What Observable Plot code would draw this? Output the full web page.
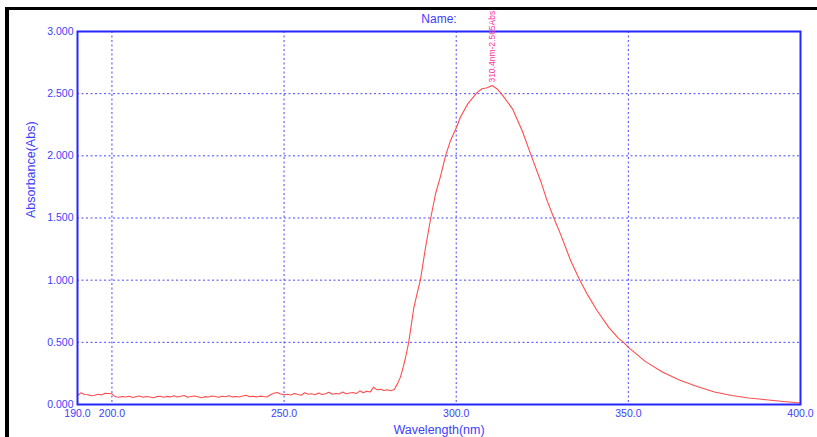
<!DOCTYPE html>
<html>
<head>
<meta charset="utf-8">
<script src="https://cdn.jsdelivr.net/npm/d3@7"></script>
<script src="https://cdn.jsdelivr.net/npm/@observablehq/plot@0.6"></script>
<style>
  html, body { margin: 0; padding: 0; background: #fff; width: 817px; height: 437px; overflow: hidden; }
  #wrap { position: absolute; left: 0; top: 0; }
  #border { position: absolute; left: 5px; top: 7px; width: 830px; height: 450px; border-top: 3px solid #000; border-left: 4px solid #000; box-sizing: border-box; pointer-events: none; }
</style>
</head>
<body>
<div id="wrap"></div>
<div id="border"></div>
<script>
// Baseline region, 1 nm steps (190 - 281 nm)
const baseWavelength = d3.range(190, 282);
const baseAbsorbance = [
  0.072, 0.094, 0.080, 0.078, 0.070, 0.074, 0.082, 0.076, 0.090, 0.088,
  0.086, 0.062, 0.058, 0.064, 0.060, 0.066, 0.056, 0.062, 0.068, 0.058,
  0.064, 0.060, 0.054, 0.063, 0.067, 0.059, 0.065, 0.061, 0.070, 0.060,
  0.066, 0.072, 0.058, 0.064, 0.069, 0.062, 0.055, 0.063, 0.060, 0.068,
  0.064, 0.058, 0.066, 0.062, 0.070, 0.061, 0.064, 0.060, 0.068, 0.074,
  0.063, 0.066, 0.061, 0.067, 0.064, 0.060, 0.078, 0.090, 0.097, 0.084,
  0.078, 0.082, 0.076, 0.088, 0.080, 0.074, 0.094, 0.082, 0.086, 0.078,
  0.092, 0.080, 0.086, 0.098, 0.082, 0.088, 0.084, 0.100, 0.086, 0.092,
  0.096, 0.088, 0.110, 0.094, 0.107, 0.100, 0.140, 0.118, 0.122, 0.112,
  0.118, 0.110
];
// Absorption band (282 - 400 nm)
const bandWavelength = [
  282.0, 283.0, 283.8, 284.6, 285.3, 286.2, 287.7, 288.7, 289.6, 291.1,
  292.6, 294.0, 295.4, 296.9, 298.3, 300.1, 301.2, 303.4, 306.1, 307.5,
  309.0, 310.4, 311.8, 313.1, 316.3, 319.2, 321.8, 324.5, 326.4, 328.5,
  330.3, 333.2, 335.9, 338.0, 340.9, 344.3, 347.2, 348.6, 350.0, 355.0,
  360.0, 365.0, 370.0, 375.0, 380.0, 385.0, 390.0, 395.0, 400.0
];
const bandAbsorbance = [
  0.120, 0.170, 0.220, 0.300, 0.380, 0.500, 0.780, 0.900, 1.000, 1.265,
  1.500, 1.695, 1.830, 2.000, 2.120, 2.230, 2.310, 2.420, 2.510, 2.540,
  2.547, 2.565, 2.540, 2.500, 2.380, 2.200, 2.000, 1.800, 1.640, 1.490,
  1.370, 1.160, 1.000, 0.890, 0.756, 0.620, 0.530, 0.500, 0.460, 0.345,
  0.260, 0.195, 0.145, 0.100, 0.072, 0.052, 0.038, 0.024, 0.012
];
const xTicks = [190, 200, 250, 300, 350, 400];
const xGrid = [200, 250, 300, 350];
const yTicks = [0, 0.5, 1.0, 1.5, 2.0, 2.5, 3.0];
const yGrid = [0.5, 1.0, 1.5, 2.0, 2.5];
const peak = [{wl: 310.4, abs: 2.565, label: "310.4nm-2.565Abs"}];
const xLabel = "Wavelength(nm)";
const yLabel = "Absorbance(Abs)";
const titleText = "Name:";

const spectrum = [
  ...baseWavelength.map((w, i) => ({wl: w, abs: baseAbsorbance[i]})),
  ...bandWavelength.map((w, i) => ({wl: w, abs: bandAbsorbance[i]}))
];

const blue = "#2626ff";
const textBlue = "#3d3dff";
const gridBlue = "#4646ff";

const chart = Plot.plot({
  width: 817,
  height: 437,
  marginLeft: 77,
  marginRight: 17,
  marginTop: 31,
  marginBottom: 33,
  style: {fontFamily: "'Liberation Sans', Arial, sans-serif", background: "transparent"},
  x: {domain: [190, 400]},
  y: {domain: [0, 3]},
  marks: [
    Plot.ruleX(xGrid, {stroke: gridBlue, strokeWidth: 1, strokeDasharray: "2,2.5"}),
    Plot.ruleY(yGrid, {stroke: gridBlue, strokeWidth: 1, strokeDasharray: "2,2.5"}),
    Plot.line(spectrum, {x: "wl", y: "abs", stroke: "#ff4d4d", strokeWidth: 1.1}),
    Plot.frame({stroke: blue, strokeWidth: 2}),
    Plot.axisX({ticks: xTicks, tickFormat: d3.format(".1f"), tickSize: 0, tickPadding: 5, fontSize: 10.5, fill: textBlue, label: null}),
    Plot.axisY({ticks: yTicks, tickFormat: d3.format(".3f"), tickSize: 0, tickPadding: 4, fontSize: 10.5, fill: textBlue, label: null}),
    Plot.text([xLabel], {frameAnchor: "bottom", dy: 29, fontSize: 12.5, fill: textBlue}),
    Plot.text([yLabel], {frameAnchor: "left", dx: -47, rotate: -90, fontSize: 12.5, fill: textBlue}),
    Plot.text([titleText], {frameAnchor: "top", dy: -17, fontSize: 12, fill: textBlue}),
    Plot.text(peak, {x: "wl", y: "abs", text: "label", rotate: -90, textAnchor: "start", dy: -3, fontSize: 8.5, fill: "#ff3399"})
  ]
});
document.getElementById("wrap").appendChild(chart);
</script>
</body>
</html>
